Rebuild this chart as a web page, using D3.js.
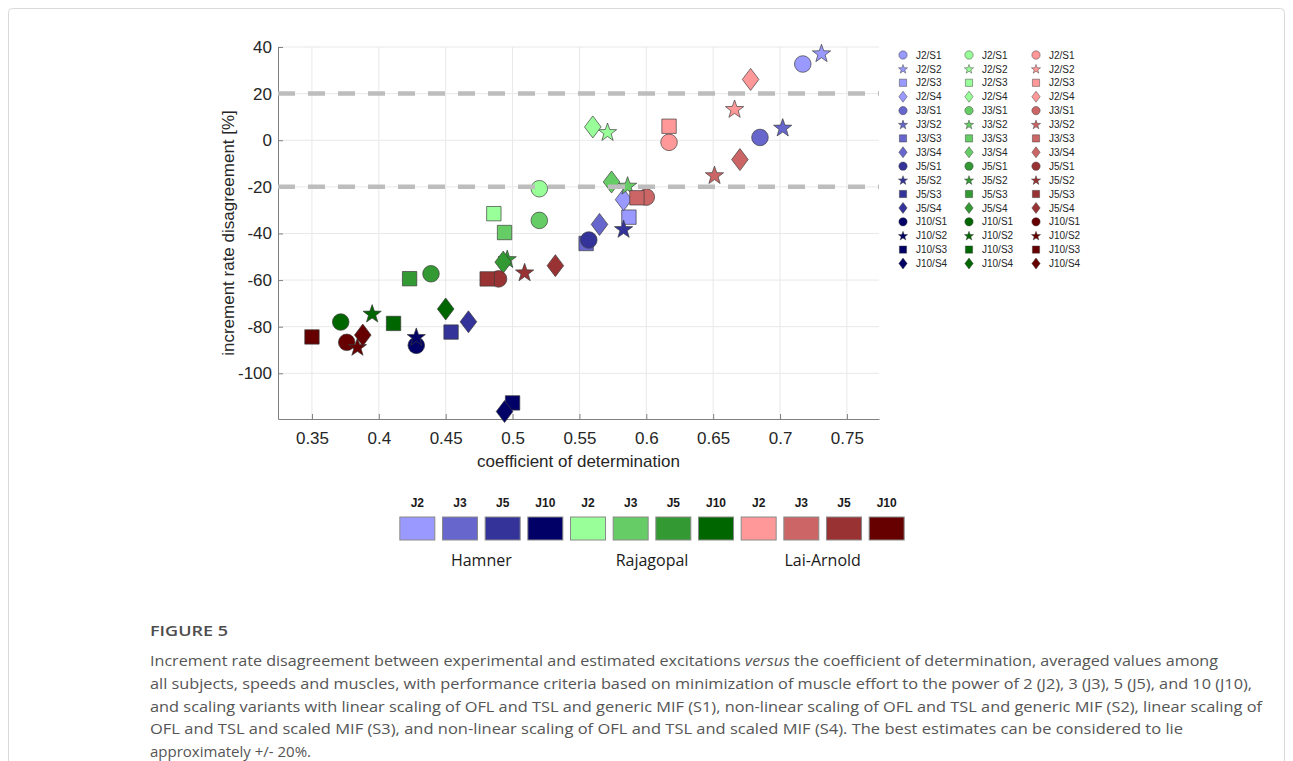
<!DOCTYPE html>
<html><head><meta charset="utf-8">
<script src="https://cdn.jsdelivr.net/npm/d3@7"></script>
<style>
html,body{margin:0;padding:0;background:#fff;}
svg{display:block;}
</style></head>
<body>
<svg id="chart" width="1293" height="761"></svg>
<script>
// ---------------- DATA ----------------
const models = ["Hamner", "Rajagopal", "Lai-Arnold"];
const criteria = ["J2", "J3", "J5", "J10"];
const variants = ["S1", "S2", "S3", "S4"];
// order: J2/S1..S4, J3/S1..S4, J5/S1..S4, J10/S1..S4
const hamnerR2  = [0.717, 0.731, 0.587, 0.583,  0.685, 0.702, 0.555, 0.565,  0.557, 0.583, 0.454, 0.467,  0.428, 0.428, 0.500, 0.494];
const hamnerIRD = [32.7, 37.4, -33.0, -25.5,    1.2, 5.5, -44.3, -36.1,    -42.8, -38.0, -82.3, -77.9,  -88.0, -84.3, -112.7, -116.4];
const rajagopalR2  = [0.520, 0.571, 0.486, 0.560,  0.520, 0.586, 0.494, 0.574,  0.439, 0.496, 0.423, 0.493,  0.3715, 0.395, 0.411, 0.450];
const rajagopalIRD = [-20.8, 3.6, -31.5, 5.7,     -34.4, -19.4, -39.6, -17.9,  -57.3, -50.9, -59.4, -52.3,  -78.0, -74.3, -78.6, -72.4];
const laiArnoldR2  = [0.617, 0.666, 0.617, 0.678,  0.600, 0.651, 0.593, 0.670,  0.4895, 0.509, 0.481, 0.532,  0.376, 0.384, 0.350, 0.388];
const laiArnoldIRD = [-0.9, 13.5, 6.0, 26.1,      -24.4, -14.9, -24.7, -8.3,   -59.5, -56.6, -59.5, -53.8,  -86.7, -88.6, -84.4, -83.6];
const boundLines = [20, -20];
const xTicks = [0.35, 0.4, 0.45, 0.5, 0.55, 0.6, 0.65, 0.7, 0.75];
const xTickLabels = ["0.35", "0.4", "0.45", "0.5", "0.55", "0.6", "0.65", "0.7", "0.75"];
const yTicks = [-100, -80, -60, -40, -20, 0, 20, 40];
const yTickLabels = ["-100", "-80", "-60", "-40", "-20", "0", "20", "40"];

// colours (style)
const modelColors = {
  "Hamner":     ["#9999ff", "#6666cc", "#333399", "#000066"],
  "Rajagopal":  ["#99ff99", "#66cc66", "#339933", "#006600"],
  "Lai-Arnold": ["#ff9999", "#cc6666", "#993333", "#660000"]
};
const modelData = {
  "Hamner": [hamnerR2, hamnerIRD],
  "Rajagopal": [rajagopalR2, rajagopalIRD],
  "Lai-Arnold": [laiArnoldR2, laiArnoldIRD]
};

const captionTitle = "FIGURE 5";
const captionLines = [
  [["Increment rate disagreement between experimental and estimated excitations ", false], ["versus", true], [" the coefficient of determination, averaged values among", false]],
  [["all subjects, speeds and muscles, with performance criteria based on minimization of muscle effort to the power of 2 (J2), 3 (J3), 5 (J5), and 10 (J10),", false]],
  [["and scaling variants with linear scaling of OFL and TSL and generic MIF (S1), non-linear scaling of OFL and TSL and generic MIF (S2), linear scaling of", false]],
  [["OFL and TSL and scaled MIF (S3), and non-linear scaling of OFL and TSL and scaled MIF (S4). The best estimates can be considered to lie", false]],
  [["approximately +/- 20%.", false]]
];
const captionWidths = [1068, 1102, 1112, 1033, 161];

// ---------------- BUILD ----------------
const points = [];
models.forEach(m => {
  const [xs, ys] = modelData[m];
  criteria.forEach((j, ji) => {
    variants.forEach((s, si) => {
      const k = ji * 4 + si;
      points.push({model: m, j, s, ji, si, x: xs[k], y: ys[k], color: modelColors[m][ji]});
    });
  });
});

const svg = d3.select("#chart");
const FONT = "'Liberation Sans', Arial, Helvetica, sans-serif";

// frame
svg.append("rect").attr("x", 8.5).attr("y", 8.5).attr("width", 1276).attr("height", 800)
  .attr("rx", 4).attr("fill", "none").attr("stroke", "#d9d9d9").attr("stroke-width", 1);

const L = 278, R = 879, T = 47, B = 419;
const x = d3.scaleLinear().domain([0.3246, 0.774]).range([L, R]);
const y = d3.scaleLinear().domain([-119.6, 40]).range([B, T]);

const g = svg.append("g");

// grid
g.append("g").selectAll("line").data(xTicks).join("line")
  .attr("x1", d => x(d)).attr("x2", d => x(d)).attr("y1", T).attr("y2", B)
  .attr("stroke", "#e8e8e8").attr("stroke-width", 1);
g.append("g").selectAll("line").data(yTicks).join("line")
  .attr("x1", L).attr("x2", R).attr("y1", d => y(d)).attr("y2", d => y(d))
  .attr("stroke", "#e8e8e8").attr("stroke-width", 1);

// axes
const xAxis = d3.axisBottom(x).tickValues(xTicks).tickFormat((d, i) => xTickLabels[i]).tickSizeInner(-5).tickSizeOuter(0).tickPadding(13);
const yAxis = d3.axisLeft(y).tickValues(yTicks).tickFormat((d, i) => yTickLabels[i]).tickSizeInner(-5).tickSizeOuter(0).tickPadding(6);
const gx = g.append("g").attr("transform", `translate(0,${B})`).call(xAxis);
const gy = g.append("g").attr("transform", `translate(${L},0)`).call(yAxis);
[gx, gy].forEach(a => {
  a.select(".domain").attr("stroke", "#808080").attr("stroke-width", 1);
  a.selectAll(".tick line").attr("stroke", "#808080");
  a.selectAll(".tick text").attr("fill", "#262626").style("font-family", FONT).style("font-size", "17px");
});

// axis labels
g.append("text").attr("x", (L + R) / 2).attr("y", 467).attr("text-anchor", "middle")
  .attr("fill", "#262626").style("font-family", FONT).style("font-size", "17px")
  .text("coefficient of determination");
g.append("text").attr("transform", `translate(234,${(T + B) / 2}) rotate(-90)`).attr("text-anchor", "middle")
  .attr("fill", "#262626").style("font-family", FONT).style("font-size", "17px")
  .text("increment rate disagreement [%]");

// marker shapes
function shapePath(s, k) {
  if (s === "S1") { const r = 8.3 * k; return `M${-r},0A${r},${r} 0 1,0 ${r},0A${r},${r} 0 1,0 ${-r},0Z`; }
  if (s === "S3") { const h = 7.2 * k; return `M${-h},${-h}H${h}V${h}H${-h}Z`; }
  if (s === "S4") { const w = 8.3 * k, hh = 11 * k; return `M0,${-hh}L${w},0L0,${hh}L${-w},0Z`; }
  // star
  const Ro = 9.6 * k, Ri = Ro * 0.40;
  let p = "";
  for (let i = 0; i < 10; i++) {
    const a = -Math.PI / 2 + i * Math.PI / 5;
    const rr = i % 2 === 0 ? Ro : Ri;
    p += (i === 0 ? "M" : "L") + (rr * Math.cos(a)).toFixed(2) + "," + (rr * Math.sin(a) + 0.8 * k).toFixed(2);
  }
  return p + "Z";
}

// markers
g.append("g").selectAll("path").data(points).join("path")
  .attr("transform", d => `translate(${x(d.x)},${y(d.y)})`)
  .attr("d", d => shapePath(d.s, 1))
  .attr("fill", d => d.color)
  .attr("stroke", "#3a3a3a").attr("stroke-opacity", 0.85).attr("stroke-width", 0.8);

// +/-20 dashed lines
g.append("g").selectAll("line").data(boundLines).join("line")
  .attr("x1", L).attr("x2", R).attr("y1", d => y(d)).attr("y2", d => y(d))
  .attr("stroke", "#bdbdbd").attr("stroke-width", 4.5).attr("stroke-dasharray", "17,13");

// right legend
const leg = svg.append("g");
const legColX = [903, 969, 1036];
const legRowY = d3.scaleLinear().domain([0, 15]).range([55, 263.5]);
models.forEach((m, mi) => {
  points.filter(p => p.model === m).forEach((p, idx) => {
    const ly = legRowY(idx);
    leg.append("path").attr("transform", `translate(${legColX[mi]},${ly})`)
      .attr("d", shapePath(p.s, 0.5)).attr("fill", p.color)
      .attr("stroke", "#3a3a3a").attr("stroke-opacity", 0.8).attr("stroke-width", 0.6);
    leg.append("text").attr("x", legColX[mi] + 13).attr("y", ly + 3.6)
      .attr("fill", "#262626").style("font-family", FONT).style("font-size", "10px")
      .text(`${p.j}/${p.s}`);
  });
});

// bottom colour legend
const swatchKeys = [];
models.forEach(m => criteria.forEach((j, ji) => swatchKeys.push({model: m, j, color: modelColors[m][ji], key: m + j})));
const band = d3.scaleBand().domain(swatchKeys.map(d => d.key)).range([396, 908]).paddingInner(0.18).paddingOuter(0.09);
const sw = svg.append("g");
sw.selectAll("rect").data(swatchKeys).join("rect")
  .attr("x", d => band(d.key)).attr("y", 517).attr("width", band.bandwidth()).attr("height", 23)
  .attr("fill", d => d.color).attr("stroke", "#8a8a8a").attr("stroke-width", 1);
sw.selectAll("text.jl").data(swatchKeys).join("text").attr("class", "jl")
  .attr("x", d => band(d.key) + band.bandwidth() / 2).attr("y", 507).attr("text-anchor", "middle")
  .attr("fill", "#1a1a1a").style("font-family", FONT).style("font-size", "12px").style("font-weight", "bold")
  .text(d => d.j);
sw.selectAll("text.ml").data(models).join("text").attr("class", "ml")
  .attr("x", m => {
    const ks = swatchKeys.filter(d => d.model === m);
    return (band(ks[0].key) + band(ks[3].key) + band.bandwidth()) / 2;
  })
  .attr("y", 566).attr("text-anchor", "middle")
  .attr("fill", "#1a1a1a").style("font-family", "'Open Sans', 'Noto Sans', sans-serif").style("font-size", "16px")
  .text(m => m);

// caption
const cap = svg.append("g");
cap.append("text").attr("x", 150).attr("y", 636).attr("fill", "#4d4d4d")
  .style("font-family", "'Open Sans', 'Noto Sans', sans-serif").style("font-size", "15px").style("font-weight", "600")
  .attr("textLength", 78).attr("lengthAdjust", "spacingAndGlyphs").text(captionTitle);
captionLines.forEach((line, i) => {
  const t = cap.append("text").attr("x", 150).attr("y", 666 + i * 22.8).attr("fill", "#555")
    .style("font-family", "'Open Sans', 'Noto Sans', sans-serif").style("font-size", "15px")
    .attr("textLength", captionWidths[i]).attr("lengthAdjust", "spacingAndGlyphs");
  line.forEach(([txt, it]) => {
    t.append("tspan").style("font-style", it ? "italic" : "normal").text(txt);
  });
});
</script>
</body></html>
